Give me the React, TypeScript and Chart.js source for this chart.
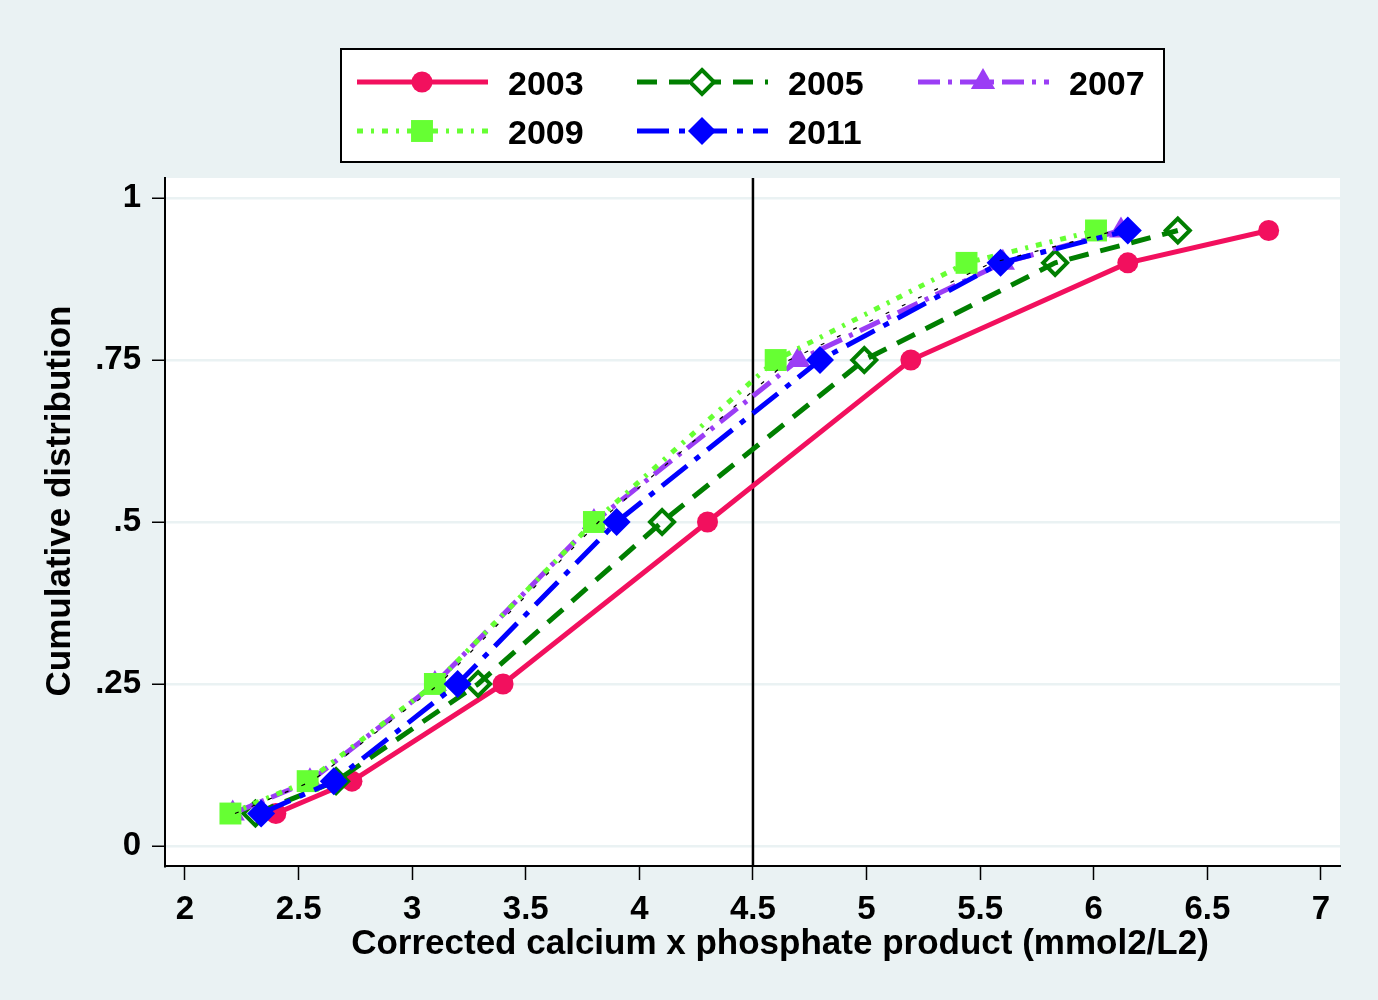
import React, { useEffect, useRef } from 'react';
import { Chart, registerables } from 'chart.js';

Chart.register(...registerables);

// ---- data ----
const xTicks = [2, 2.5, 3, 3.5, 4, 4.5, 5, 5.5, 6, 6.5, 7];
const xTickLabels = ['2', '2.5', '3', '3.5', '4', '4.5', '5', '5.5', '6', '6.5', '7'];
const yTicks = [0, 0.25, 0.5, 0.75, 1];
const yTickLabels = ['0', '.25', '.5', '.75', '1'];
const cumulative = [0.05, 0.1, 0.25, 0.5, 0.75, 0.9, 0.95];
const seriesNames = ['2003', '2005', '2007', '2009', '2011'];
const x2003 = [2.4, 2.735, 3.4, 4.3, 5.195, 6.15, 6.77];
const x2005 = [2.31, 2.665, 3.29, 4.1, 4.99, 5.83, 6.37];
const x2007 = [2.21, 2.55, 3.1, 3.8, 4.7, 5.6, 6.12];
const x2009 = [2.2, 2.54, 3.1, 3.8, 4.6, 5.44, 6.01];
const x2011 = [2.335, 2.655, 3.2, 3.9, 4.795, 5.59, 6.15];
const xBlackTrace = [2.22, 2.56, 3.12, 3.82, 4.66, 5.55, 6.1];
const referenceLineX = 4.5;
const xTitle = 'Corrected calcium x phosphate product (mmol2/L2)';
const yTitle = 'Cumulative distribution';

// ---- styles ----
const BG = '#EAF2F3';
const FONT = "'Liberation Sans', Arial, sans-serif";
type Style = { color: string; dash: number[]; marker: string; radius: number; hollow?: boolean };
const styles: Style[] = [
  { color: '#F2105E', dash: [], marker: 'circle', radius: 10.5 },
  { color: '#007F00', dash: [20, 12], marker: 'rectRot', radius: 12, hollow: true },
  { color: '#9B3DF5', dash: [22, 8, 4, 8], marker: 'triangle', radius: 14 },
  { color: '#66FF33', dash: [6, 8, 3, 8], marker: 'rect', radius: 15.5 },
  { color: '#0000FF', dash: [32, 10, 6, 10], marker: 'rectRot', radius: 14 },
];
const seriesX = [x2003, x2005, x2007, x2009, x2011];

function drawMarker(ctx: CanvasRenderingContext2D, s: Style, x: number, y: number) {
  const r = s.radius;
  ctx.save();
  ctx.setLineDash([]);
  ctx.beginPath();
  if (s.marker === 'circle') {
    ctx.arc(x, y, r, 0, Math.PI * 2);
  } else if (s.marker === 'rectRot') {
    ctx.moveTo(x, y - r);
    ctx.lineTo(x + r, y);
    ctx.lineTo(x, y + r);
    ctx.lineTo(x - r, y);
    ctx.closePath();
  } else if (s.marker === 'triangle') {
    ctx.moveTo(x, y - r);
    ctx.lineTo(x + r * Math.sin((2 * Math.PI) / 3), y + r / 2);
    ctx.lineTo(x - r * Math.sin((2 * Math.PI) / 3), y + r / 2);
    ctx.closePath();
  } else {
    const h = r * Math.SQRT1_2;
    ctx.rect(x - h, y - h, 2 * h, 2 * h);
  }
  if (s.hollow) {
    ctx.lineWidth = 4;
    ctx.strokeStyle = s.color;
    ctx.fillStyle = '#ffffff';
    ctx.fill();
    ctx.stroke();
  } else {
    ctx.fillStyle = s.color;
    ctx.fill();
  }
  ctx.restore();
}

const bgPlugin = {
  id: 'bgPlugin',
  beforeDraw(chart: any) {
    const { ctx, chartArea } = chart;
    ctx.save();
    ctx.fillStyle = BG;
    ctx.fillRect(0, 0, chart.width, chart.height);
    ctx.fillStyle = '#ffffff';
    ctx.fillRect(chartArea.left, chartArea.top, chartArea.right - chartArea.left, chartArea.bottom - chartArea.top);
    ctx.restore();
  },
  beforeDatasetsDraw(chart: any) {
    const { ctx, chartArea, scales } = chart;
    const px = scales.x.getPixelForValue(referenceLineX);
    ctx.save();
    ctx.strokeStyle = '#000000';
    ctx.lineWidth = 2.5;
    ctx.beginPath();
    ctx.moveTo(px, chartArea.top);
    ctx.lineTo(px, chartArea.bottom);
    ctx.stroke();
    ctx.restore();
  },
  afterDraw(chart: any) {
    const ctx: CanvasRenderingContext2D = chart.ctx;
    ctx.save();
    // axis titles
    ctx.fillStyle = '#000000';
    ctx.font = `bold 35px ${FONT}`;
    ctx.textAlign = 'center';
    ctx.textBaseline = 'middle';
    ctx.fillText(xTitle, 780, 944);
    ctx.save();
    ctx.translate(60, 501);
    ctx.rotate(-Math.PI / 2);
    ctx.fillText(yTitle, 0, 0);
    ctx.restore();
    // legend box
    ctx.fillStyle = '#ffffff';
    ctx.fillRect(341, 49, 823, 113);
    ctx.strokeStyle = '#000000';
    ctx.lineWidth = 2;
    ctx.strokeRect(341, 49, 823, 113);
    const cols = [357, 637, 918];
    const rows = [82, 131];
    seriesNames.forEach((name, i) => {
      const s = styles[i];
      const lx = cols[i % 3];
      const ly = rows[Math.floor(i / 3)];
      ctx.save();
      ctx.strokeStyle = s.color;
      ctx.lineWidth = 5;
      ctx.setLineDash(s.dash);
      ctx.beginPath();
      ctx.moveTo(lx, ly);
      ctx.lineTo(lx + 131, ly);
      ctx.stroke();
      ctx.restore();
      drawMarker(ctx, s, lx + 65, ly);
      ctx.fillStyle = '#000000';
      ctx.font = `bold 34px ${FONT}`;
      ctx.textBaseline = 'middle';
      ctx.textAlign = 'left';
      ctx.fillText(name, lx + 151, ly + 4);
    });
    ctx.restore();
  },
};

export default function App() {
  const ref = useRef<HTMLCanvasElement | null>(null);
  useEffect(() => {
    if (!ref.current) return;
    const datasets: any[] = seriesNames.map((name, i) => {
      const s = styles[i];
      return {
        label: name,
        data: seriesX[i].map((x, j) => ({ x, y: cumulative[j] })),
        borderColor: s.color,
        borderWidth: 5,
        borderDash: s.dash,
        borderCapStyle: 'butt',
        pointStyle: s.marker,
        pointRadius: s.radius,
        pointBackgroundColor: s.hollow ? 'rgba(0,0,0,0)' : s.color,
        pointBorderColor: s.color,
        pointBorderWidth: s.hollow ? 4 : 0,
        fill: false,
        tension: 0,
        order: seriesNames.length - i + 1,
      };
    });
    datasets.push({
      label: 'trace',
      data: xBlackTrace.map((x, j) => ({ x, y: cumulative[j] })),
      borderColor: '#000000',
      borderWidth: 1.2,
      borderDash: [4, 14],
      pointRadius: 0,
      fill: false,
      order: 0,
    });
    const chart = new Chart(ref.current, {
      type: 'line',
      data: { datasets },
      plugins: [bgPlugin],
      options: {
        responsive: false,
        animation: false,
        devicePixelRatio: 1,
        layout: { padding: { top: 178, right: 38, bottom: 0, left: 0 } },
        plugins: { legend: { display: false }, tooltip: { enabled: false } },
        scales: {
          x: {
            type: 'linear',
            min: 1.912,
            max: 7.084,
            afterBuildTicks: (scale: any) => {
              scale.ticks = xTicks.map((v) => ({ value: v }));
            },
            afterFit: (scale: any) => {
              scale.height = 134;
            },
            ticks: {
              autoSkip: false,
              maxRotation: 0,
              padding: 10,
              color: '#000000',
              font: { family: FONT, size: 33, weight: 'bold' },
              callback: (v: any) => {
                const i = xTicks.indexOf(Number(v));
                return i >= 0 ? xTickLabels[i] : '';
              },
            },
            grid: { drawOnChartArea: false, tickLength: 14, tickColor: '#000000', tickWidth: 1.5 },
            border: { display: true, color: '#000000', width: 2 },
            title: { display: false },
          },
          y: {
            type: 'linear',
            min: -0.031,
            max: 1.031,
            afterBuildTicks: (scale: any) => {
              scale.ticks = yTicks.map((v) => ({ value: v }));
            },
            afterFit: (scale: any) => {
              scale.width = 165;
            },
            ticks: {
              autoSkip: false,
              padding: 11,
              color: '#000000',
              font: { family: FONT, size: 33, weight: 'bold' },
              callback: (v: any) => {
                const i = yTicks.indexOf(Number(v));
                return i >= 0 ? yTickLabels[i] : '';
              },
            },
            grid: { color: BG, lineWidth: 2.5, tickLength: 13, tickColor: '#000000', tickWidth: 1.5 },
            border: { display: true, color: '#000000', width: 2 },
            title: { display: false },
          },
        },
      },
    });
    return () => chart.destroy();
  }, []);
  return (
    <div style={{ position: 'fixed', left: 0, top: 0, width: 1378, height: 1000, background: BG }}>
      <canvas ref={ref} width={1378} height={1000} style={{ display: 'block' }} />
    </div>
  );
}
